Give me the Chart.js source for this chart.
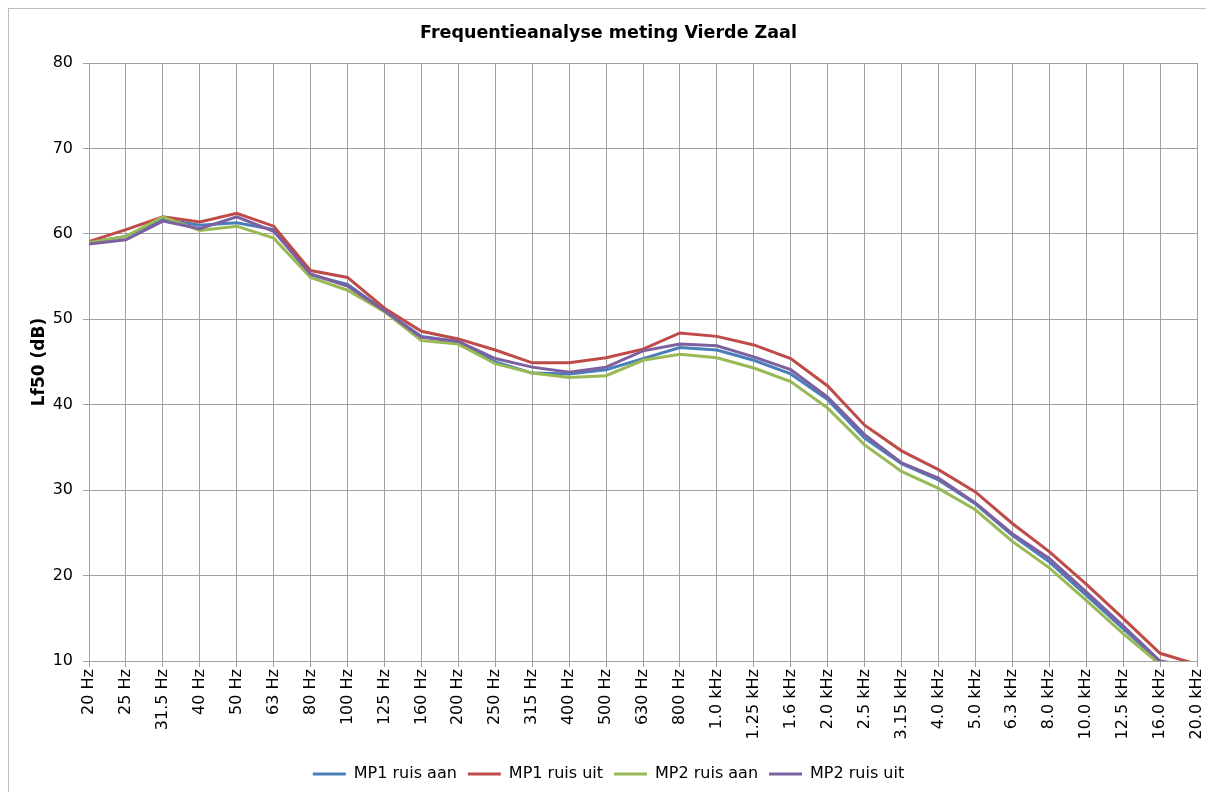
<!DOCTYPE html>
<html>
<head>
<meta charset="utf-8">
<script src="https://cdn.jsdelivr.net/npm/chart.js@4.4.0/dist/chart.umd.min.js"></script>
<style>
  html, body { margin: 0; padding: 0; background: #fff; }
  canvas { display: block; }
</style>
</head>
<body>
<canvas id="myChart" width="1206" height="792"></canvas>
<script>
const categories = ["20 Hz", "25 Hz", "31.5 Hz", "40 Hz", "50 Hz", "63 Hz", "80 Hz", "100 Hz", "125 Hz", "160 Hz",
  "200 Hz", "250 Hz", "315 Hz", "400 Hz", "500 Hz", "630 Hz", "800 Hz", "1.0 kHz", "1.25 kHz", "1.6 kHz",
  "2.0 kHz", "2.5 kHz", "3.15 kHz", "4.0 kHz", "5.0 kHz", "6.3 kHz", "8.0 kHz", "10.0 kHz", "12.5 kHz", "16.0 kHz", "20.0 kHz"];

const mp1RuisAan = [59.0, 59.7, 61.7, 61.0, 61.3, 60.5, 55.2, 54.1, 51.0, 48.0, 47.4, 45.0, 43.7, 43.6, 44.1, 45.4,
  46.7, 46.4, 45.2, 43.6, 40.6, 36.1, 33.1, 31.2, 28.4, 24.7, 21.6, 17.7, 13.8, 9.9, 9.0];
const mp1RuisUit = [59.1, 60.5, 62.0, 61.4, 62.4, 60.9, 55.7, 54.9, 51.3, 48.6, 47.7, 46.4, 44.9, 44.9, 45.5, 46.5,
  48.4, 48.0, 47.0, 45.4, 42.2, 37.6, 34.6, 32.4, 29.8, 26.1, 22.8, 19.0, 15.0, 10.9, 9.6];
const mp2RuisAan = [59.0, 59.7, 62.0, 60.4, 60.9, 59.5, 54.9, 53.4, 50.9, 47.5, 47.1, 44.8, 43.7, 43.2, 43.4, 45.2,
  45.9, 45.5, 44.3, 42.7, 39.6, 35.3, 32.2, 30.2, 27.7, 24.0, 20.9, 17.1, 13.2, 9.6, 8.6];
const mp2RuisUit = [58.8, 59.3, 61.5, 60.6, 62.0, 60.3, 55.3, 53.9, 51.0, 47.9, 47.4, 45.4, 44.4, 43.8, 44.4, 46.3,
  47.1, 46.9, 45.6, 44.1, 40.9, 36.5, 33.2, 31.4, 28.5, 24.9, 22.0, 18.1, 14.1, 10.0, 9.3];

const yMin = 10;
const yMax = 80;
const yStep = 10;

const gridColor = "#a0a0a0";

Chart.defaults.font.family = "'DejaVu Sans', Verdana, sans-serif";
Chart.defaults.font.size = 16;
Chart.defaults.color = "#000";

// white background + light frame round the chart
const frame = {
  id: "frame",
  beforeDraw(chart) {
    const ctx = chart.ctx;
    ctx.save();
    ctx.fillStyle = "#fff";
    ctx.fillRect(0, 0, chart.width, chart.height);
    ctx.strokeStyle = "#bdbdbd";
    ctx.lineWidth = 1;
    ctx.strokeRect(8.5, 8.5, chart.width + 20, chart.height + 20);
    ctx.restore();
  }
};

function series(label, data, color, order) {
  return {
    label: label,
    data: data,
    borderColor: color,
    backgroundColor: color,
    borderWidth: 3,
    pointRadius: 0,
    pointHoverRadius: 0,
    tension: 0,
    order: order,
    clip: 0
  };
}

const ctx = document.getElementById("myChart").getContext("2d");
new Chart(ctx, {
  type: "line",
  data: {
    labels: categories,
    datasets: [
      series("MP1 ruis aan", mp1RuisAan, "#4a7ebb", 4),
      series("MP1 ruis uit", mp1RuisUit, "#be4b48", 3),
      series("MP2 ruis aan", mp2RuisAan, "#98b954", 2),
      series("MP2 ruis uit", mp2RuisUit, "#7d60a0", 1)
    ]
  },
  options: {
    responsive: false,
    animation: false,
    layout: { padding: { left: 20, right: 9, top: 0, bottom: 0 } },
    plugins: {
      title: {
        display: true,
        text: "Frequentieanalyse meting Vierde Zaal",
        font: { size: 17.5, weight: "bold" },
        color: "#000",
        padding: { top: 23, bottom: 19 }
      },
      legend: {
        position: "bottom",
        labels: {
          usePointStyle: true,
          pointStyle: "line",
          pointStyleWidth: 33,
          boxHeight: 3,
          padding: 11,
          color: "#000",
          font: { size: 16 },
          sort: (a, b) => a.datasetIndex - b.datasetIndex
        }
      },
      tooltip: { enabled: false }
    },
    scales: {
      x: {
        offset: false,
        grid: { color: gridColor, lineWidth: 1, tickLength: 6, offset: false },
        border: { color: gridColor },
        ticks: { minRotation: 90, maxRotation: 90, autoSkip: false, padding: 2, color: "#000" },
        afterFit(scale) {
          scale.height = 94;
          scale.paddingLeft = 0;
          scale.paddingRight = 0;
        }
      },
      y: {
        min: yMin,
        max: yMax,
        grid: { color: gridColor, lineWidth: 1, tickLength: 6 },
        border: { color: gridColor },
        ticks: { stepSize: yStep, padding: 10, color: "#000" },
        title: {
          display: true,
          text: "Lf50 (dB)",
          font: { size: 17, weight: "bold" },
          color: "#000",
          padding: { top: 9, bottom: 0 }
        },
        afterFit(scale) { scale.width = 69; }
      }
    }
  },
  plugins: [frame]
});
</script>
</body>
</html>
